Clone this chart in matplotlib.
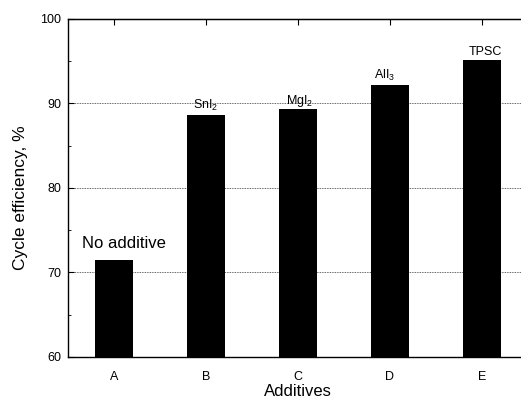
import matplotlib
matplotlib.use("Agg")
import matplotlib.pyplot as plt
from matplotlib.ticker import MultipleLocator

plt.rcParams['font.family'] = ['Liberation Sans', 'DejaVu Sans']
plt.rcParams['mathtext.fontset'] = 'custom'
plt.rcParams['mathtext.rm'] = 'Liberation Sans'
plt.rcParams['mathtext.it'] = 'Liberation Sans'
plt.rcParams['mathtext.default'] = 'regular'

categories = ["A", "B", "C", "D", "E"]
efficiency = [71.5, 88.6, 89.3, 92.2, 95.1]
bar_labels = ["No additive", "SnI$_2$", "MgI$_2$", "AlI$_3$", "TPSC"]

# label layout (offsets relative to bar top / centre, font sizes)
label_dx = [0.11, 0.0, 0.02, -0.06, 0.04]
label_dy = [1.4, 0.75, 0.65, 0.7, 0.64]
label_fs = [12, 9, 9, 9, 9]

fig = plt.figure(figsize=(5.21, 4.01), dpi=100)
ax = fig.add_axes([68/521, 44/401, 460/521, 338/401])
x = list(range(len(categories)))
ax.bar(x, efficiency, width=0.41, color='black', zorder=3)
ax.set_xlim(-0.5, 4.5)
ax.set_ylim(60, 100)
ax.set_xticks(x)
ax.set_xticklabels(categories)
ax.yaxis.set_major_locator(MultipleLocator(10))
ax.yaxis.set_minor_locator(MultipleLocator(5))
ax.tick_params(axis='y', which='both', direction='in', labelsize=9, length=4, pad=5)
ax.tick_params(axis='y', which='minor', length=2.5)
ax.tick_params(axis='x', which='both', direction='in', labelsize=9, length=0, pad=10)
for s in ax.spines.values():
    s.set_linewidth(1.0)
ax.spines['right'].set_visible(False)
ax.grid(axis='y', linestyle=(0, (1, 1)), color='#333333', linewidth=0.6, zorder=1)
ax2 = ax.secondary_xaxis('top')
ax2.set_xticks(x)
ax2.set_xticklabels([])
ax2.tick_params(direction='in', length=4)

ax.set_xlabel("Additives", fontsize=12, labelpad=1)
ax.set_ylabel("Cycle efficiency, %", fontsize=12.5)
ax.yaxis.set_label_coords(-0.086, 0.47)

for xi, v, lab, fs, dx, dy in zip(x, efficiency, bar_labels, label_fs, label_dx, label_dy):
    ax.text(xi + dx, v + dy, lab, ha='center', va='baseline', fontsize=fs, zorder=4)

fig.savefig("out.png", dpi=100)
